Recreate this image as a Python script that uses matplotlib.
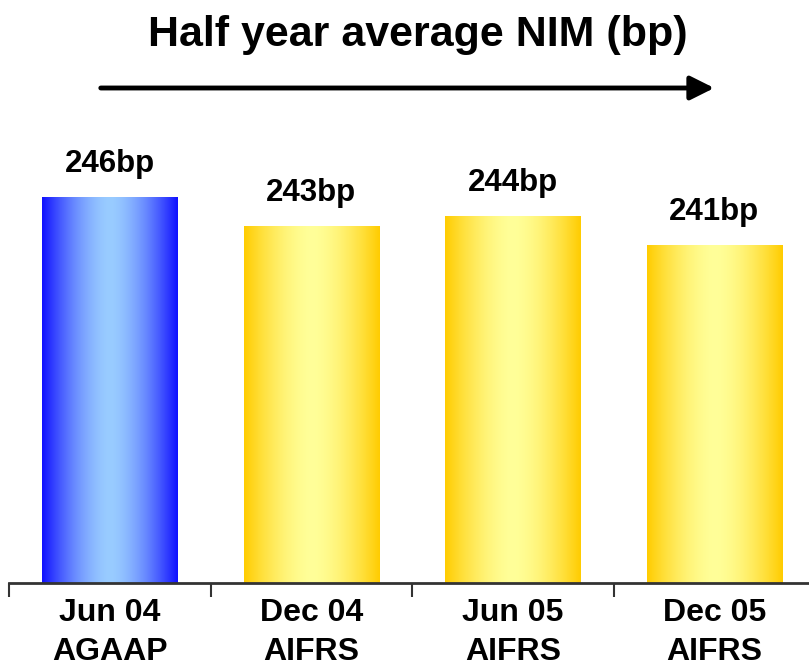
import matplotlib
matplotlib.use("Agg")
import matplotlib.pyplot as plt
import matplotlib.colors as mcolors
import numpy as np

plt.rcParams['font.family'] = ['Liberation Sans', 'DejaVu Sans']

periods = ['Jun 04', 'Dec 04', 'Jun 05', 'Dec 05']
standards = ['AGAAP', 'AIFRS', 'AIFRS', 'AIFRS']
nim_bp = [246, 243, 244, 241]
bar_colours = [('#1010ff', '#99ccff'), ('#ffcc00', '#ffff99'),
               ('#ffcc00', '#ffff99'), ('#ffcc00', '#ffff99')]

W, H = 809, 669
fig = plt.figure(figsize=(W / 100, H / 100), dpi=100)
ax = fig.add_axes([9 / W, (H - 583) / H, 800 / W, 483 / H])

x = np.arange(len(periods))
bars = ax.bar(x, nim_bp, width=0.67, bottom=0, color='none')

ymin = 206.5
ax.set_ylim(ymin, ymin + 483 / 9.77)
ax.set_xlim(-0.5, -0.5 + 800 / 201.5)

# horizontal gradient, dark at edges, light in the middle
t = np.linspace(-1, 1, 256)
prof = 1 - np.abs(t) ** 1.6
for b, (edge, mid), v in zip(bars, bar_colours, nim_bp):
    cmap = mcolors.LinearSegmentedColormap.from_list('g', [edge, mid])
    x0 = b.get_x()
    ax.imshow(prof[np.newaxis, :], cmap=cmap, aspect='auto',
              extent=[x0, x0 + b.get_width(), ymin, v], zorder=2,
              interpolation='bicubic')
    ax.text(b.get_x() + b.get_width() / 2, v + 1.9, f'{v}bp',
            ha='center', va='bottom', fontsize=22.5, fontweight='bold')

ax.set_xlim(-0.5, -0.5 + 800 / 201.5)
ax.set_ylim(ymin, ymin + 483 / 9.77)

for s in ['top', 'right', 'left']:
    ax.spines[s].set_visible(False)
ax.spines['bottom'].set_linewidth(2)
ax.spines['bottom'].set_color('#333333')
ax.set_yticks([])

ax.set_xticks(x)
ax.set_xticklabels([f'{p}\n{s}' for p, s in zip(periods, standards)],
                   fontsize=23, fontweight='bold', linespacing=1.4)
ax.tick_params(axis='x', which='major', length=0, pad=11)
ax.set_xticks(np.arange(len(periods)) - 0.5, minor=True)
ax.tick_params(axis='x', which='minor', length=10, width=1.5,
               color='#333333', direction='out')

fig.text(418 / W, 1 - 35 / H, 'Half year average NIM (bp)',
         ha='center', va='center', fontsize=31, fontweight='bold')

fig.add_artist(matplotlib.patches.FancyArrowPatch(
    (98 / W, 1 - 88 / H), (717 / W, 1 - 88 / H),
    transform=fig.transFigure, arrowstyle='-|>,head_length=0.9,head_width=0.45',
    mutation_scale=16, lw=3.5, color='black'))

fig.savefig('out.png', dpi=100)
